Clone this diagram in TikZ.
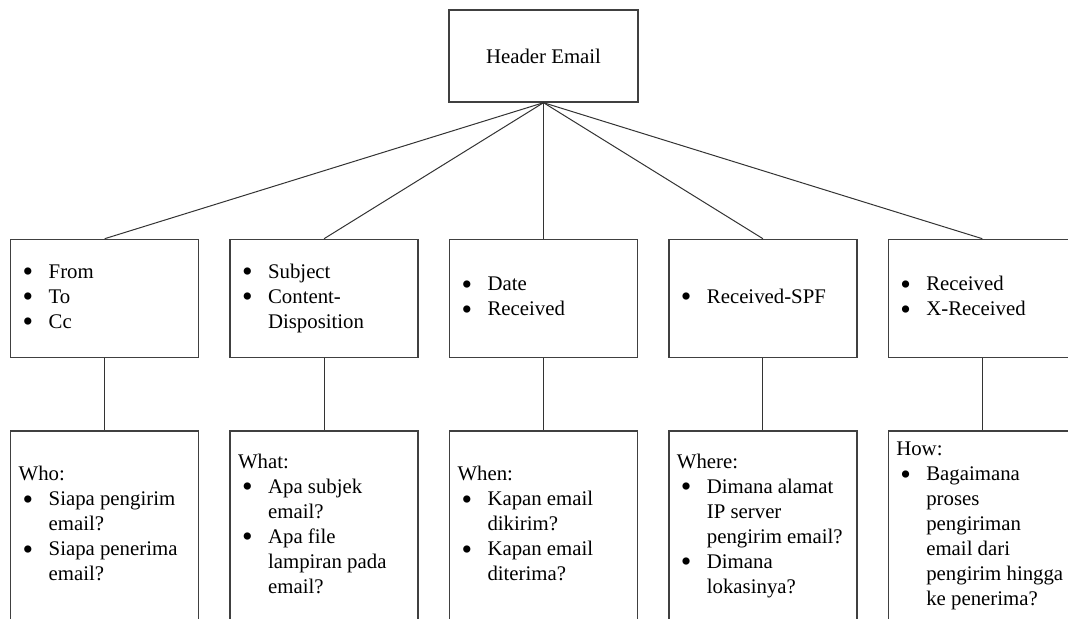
\documentclass[tikz,border=0pt]{standalone}
\usepackage{fontspec}
\setmainfont{Liberation Serif}
\usetikzlibrary{positioning}
\newcommand{\butir}{\hspace*{2pt}\smash{\raisebox{-0.16em}{\scalebox{1.45}{\textbullet}}}}
\newenvironment{daftar}{\begin{tabular}{@{}p{15pt}@{}p{71pt}@{}}}{\end{tabular}}
\tikzset{
  kotak/.style={draw=black!75,line width=0.7pt,inner xsep=4pt,inner ysep=2pt,minimum width=94pt,font=\fontsize{10.4}{12.5}\selectfont},
  judul/.style={kotak,minimum width=94.5pt,minimum height=46pt},
  tengah/.style={kotak,minimum height=59pt},
  bawah/.style={kotak,minimum height=95pt},
  garis/.style={draw=black!80,line width=0.5pt},
}
\begin{document}
\begin{tikzpicture}
  \path[use as bounding box,clip] (0,0) rectangle (534pt,-309.5pt);
  \node[judul] (header) at (271.75pt,-28pt) {Header Email};
  % baris tengah
  \node[tengah,below=68pt of header] (tanggal) {\begin{daftar}\butir & Date\\ \butir & Received\end{daftar}};
  \node[tengah,left=15pt of tanggal] (subjek) {\begin{daftar}\butir & Subject\\ \butir & Content-\\ & Disposition\end{daftar}};
  \node[tengah,left=15pt of subjek] (pengirim) {\begin{daftar}\butir & From\\ \butir & To\\ \butir & Cc\end{daftar}};
  \node[tengah,right=15pt of tanggal] (spf) {\begin{daftar}\butir & Received-SPF\end{daftar}};
  \node[tengah,right=15pt of spf] (jalur) {\begin{daftar}\butir & Received\\ \butir & X-Received\end{daftar}};
  % baris bawah
  \node[bawah,below=36pt of pengirim] (who) {\begin{daftar}\multicolumn{2}{@{}l}{Who:}\\ \butir & Siapa pengirim\\ & email?\\ \butir & Siapa penerima\\ & email?\end{daftar}};
  \node[bawah,below=36pt of subjek] (what) {\begin{daftar}\multicolumn{2}{@{}l}{What:}\\ \butir & Apa subjek\\ & email?\\ \butir & Apa file\\ & lampiran pada\\ & email?\end{daftar}};
  \node[bawah,below=36pt of tanggal] (when) {\begin{daftar}\multicolumn{2}{@{}l}{When:}\\ \butir & Kapan email\\ & dikirim?\\ \butir & Kapan email\\ & diterima?\end{daftar}};
  \node[bawah,below=36pt of spf] (where) {\begin{daftar}\multicolumn{2}{@{}l}{Where:}\\ \butir & Dimana alamat\\ & IP server\\ & pengirim email?\\ \butir & Dimana\\ & lokasinya?\end{daftar}};
  \node[bawah,below=36pt of jalur] (how) {\begin{daftar}\multicolumn{2}{@{}l}{How:}\\ \butir & Bagaimana\\ & proses\\ & pengiriman\\ & email dari\\ & pengirim hingga\\ & ke penerima?\end{daftar}};
  \draw[garis] (header.south) -- (pengirim.north);
  \draw[garis] (header.south) -- (subjek.north);
  \draw[garis] (header.south) -- (tanggal.north);
  \draw[garis] (header.south) -- (spf.north);
  \draw[garis] (header.south) -- (jalur.north);
  \draw[garis] (pengirim) -- (who);
  \draw[garis] (subjek) -- (what);
  \draw[garis] (tanggal) -- (when);
  \draw[garis] (spf) -- (where);
  \draw[garis] (jalur) -- (how);
\end{tikzpicture}
\end{document}
